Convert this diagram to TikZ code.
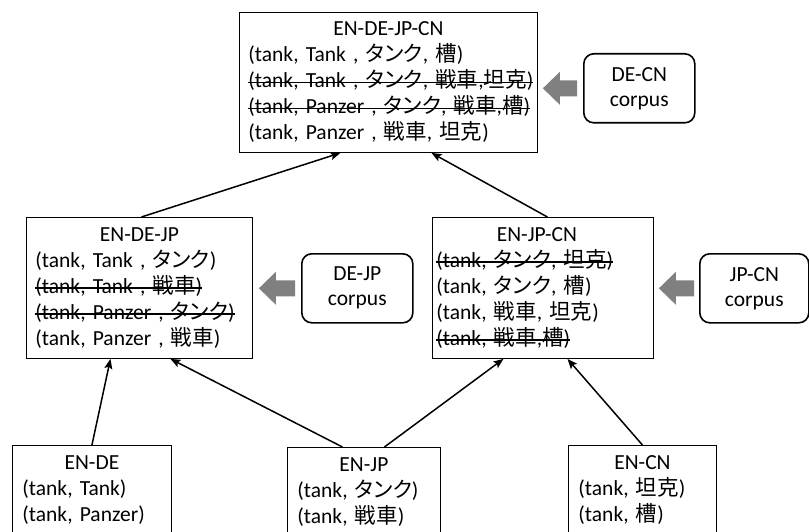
\documentclass[tikz,border=0pt]{standalone}
\usepackage{fontspec}
\setmainfont{Carlito}
\newfontfamily\cjk{Noto Sans CJK JP}
\newfontfamily\cjkp[RawFeature=+palt]{Noto Sans CJK JP}
\usetikzlibrary{calc,arrows.meta}
\newsavebox\stkbox
\newcommand\stk[1]{\leavevmode\sbox\stkbox{#1}\rlap{\rule[4.6pt]{\wd\stkbox}{1.4pt}}\usebox\stkbox}
\newcommand\J[1]{{\cjk #1}}
\newcommand\K[1]{{\cjkp #1}}
\newcommand\ttl[1]{\makebox[\hsize][c]{#1}}
\begin{document}
\begin{tikzpicture}[x=1pt,y=-1pt,
  box/.style={draw, line width=0.9pt, anchor=north west, align=left, inner ysep=0pt,
    font=\fontsize{21.5}{26}\selectfont},
  corpus/.style={draw, line width=1.6pt, rounded corners=10pt, anchor=north west, align=center,
    minimum width=111pt, minimum height=69pt, inner sep=0pt, font=\fontsize{21.5}{25}\selectfont},
  link/.style={line width=1.5pt, -{Stealth[length=10pt,width=8pt,inset=2pt]}},
  blk/.style={fill=black!50}]
\useasboundingbox (0,0) rectangle (809,532);
\clip (0,0) rectangle (809,532);

% top box
\node[box, minimum width=298pt, minimum height=140pt, text width=280pt, inner xsep=9pt] (top) at (239,12)
 {\ttl{EN-DE-JP-CN}\\
  (tank, Tank , \K{タンク}, \J{槽})\\
  \stk{(tank, Tank , \K{タンク}, \J{戦車},\J{坦克})}\\
  \stk{(tank, Panzer , \K{タンク}, \J{戦車},\J{槽})}\\
  (tank, Panzer , \J{戦車}, \J{坦克})};

% middle boxes
\node[box, minimum width=226pt, minimum height=141pt, text width=208pt, inner xsep=9pt] (endejp) at (26,217)
 {\ttl{EN-DE-JP}\\
  (tank, Tank , \K{タンク})\\
  \stk{(tank, Tank , \J{戦車})}\\
  \stk{(tank, Panzer , \K{タンク})}\\
  (tank, Panzer , \J{戦車})};

\node[box, minimum width=221pt, minimum height=141pt, text width=213pt, inner xsep=4pt] (enjpcn) at (432,217)
 {\makebox[\hsize][c]{\hspace*{-12pt}EN-JP-CN}\\
  \stk{(tank, \K{タンク}, \J{坦克})}\\
  (tank, \K{タンク}, \J{槽})\\
  (tank, \J{戦車}, \J{坦克})\\
  \stk{(tank, \J{戦車},\J{槽})}};

% bottom boxes
\node[box, minimum width=159pt, minimum height=89pt, text width=139pt, inner xsep=10pt] (ende) at (12,445)
 {\ttl{EN-DE}\\ (tank, Tank)\\ (tank, Panzer)};
\node[box, minimum width=153pt, minimum height=89pt, text width=133pt, inner xsep=10pt] (enjp) at (287,447)
 {\ttl{EN-JP}\\ (tank, \K{タンク})\\ (tank, \J{戦車})};
\node[box, minimum width=148pt, minimum height=89pt, text width=128pt, inner xsep=10pt] (encn) at (568,445)
 {\ttl{EN-CN}\\ (tank, \J{坦克})\\ (tank, \J{槽})};

% corpus boxes
\node[corpus] (decn) at (583,53) {DE-CN\\corpus};
\node[corpus] (dejp) at (301,253) {DE-JP\\corpus};
\node[corpus, minimum width=109pt] (jpcn) at (699,253) {JP-CN\\corpus};

% links
\draw[link] (ende.north) -- ([xshift=-29pt]endejp.south);
\draw[link] ([xshift=-21.5pt]enjp.north) -- ([xshift=31pt]endejp.south);
\draw[link] ([xshift=20.5pt]enjp.north) -- ([xshift=-39.5pt]enjpcn.south);
\draw[link] (encn.north) -- ([xshift=24.5pt]enjpcn.south);
\draw[link] ([xshift=2pt]endejp.north) -- ([xshift=-48pt]top.south);
\draw[link] ([xshift=4.5pt]enjpcn.north) -- ([xshift=43pt]top.south);

% gray block arrows
\path (top.east |- decn.west) ++(5,0) coordinate (h1);
\path (decn.west) ++(-6,0) coordinate (t1);
\path (endejp.east |- dejp.west) ++(6,0) coordinate (h2);
\path (dejp.west) ++(-6,0) coordinate (t2);
\path (enjpcn.east |- jpcn.west) ++(5,0) coordinate (h3);
\path (jpcn.west) ++(-5,0) coordinate (t3);
\foreach \h/\t in {h1/t1,h2/t2,h3/t3}{
  \fill[blk] (\h) -- ($(\h)+(17,-16.5)$) -- ($(\h)+(17,-8)$) -- ($(\t)+(0,-8)$)
    -- ($(\t)+(0,8)$) -- ($(\h)+(17,8)$) -- ($(\h)+(17,16.5)$) -- cycle;
}
\end{tikzpicture}
\end{document}
